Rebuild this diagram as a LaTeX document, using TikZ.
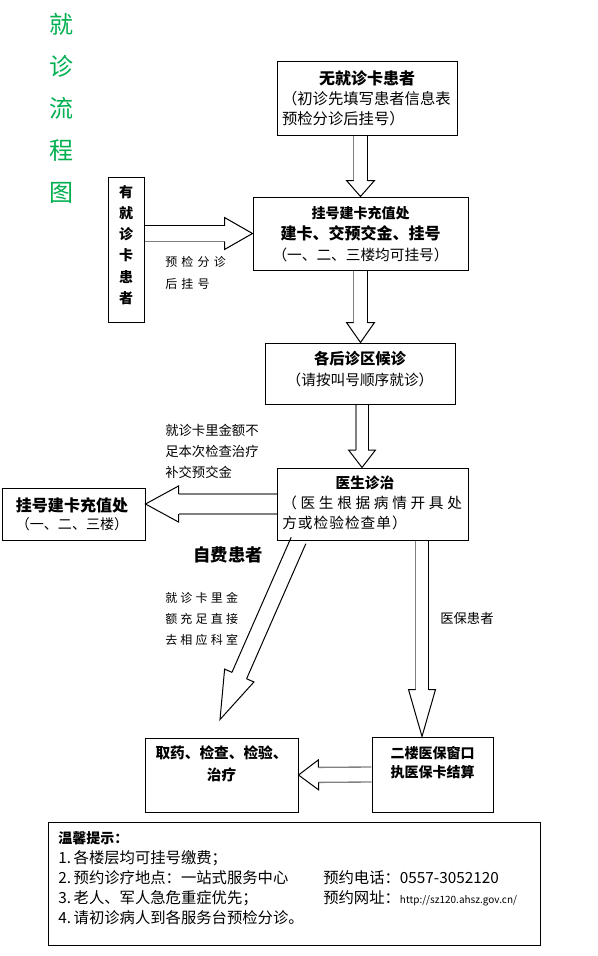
\documentclass[tikz,border=0pt]{standalone}
\usepackage{fontspec}
\setmainfont{Noto Sans CJK SC}
\usetikzlibrary{calc}
\definecolor{titlegreen}{RGB}{0,176,80}
\newcommand\fs[2]{\fontsize{#1}{#2}\selectfont}
\newcommand\ls[1]{\addfontfeatures{LetterSpace=#1}}
\newcommand\numgap{\hspace{2pt}}
% block arrow: #1 start, #2 tip, #3 shaft half width, #4 head half width, #5 head length, #6 style left(+90) edge, #7 style right(-90) edge
\newcommand\blockarrow[7]{%
  \coordinate (baH) at ($(#2)!#5!(#1)$);
  \coordinate (baAp) at ($(#1)!#3!90:(#2)$);
  \coordinate (baAm) at ($(#1)!#3!-90:(#2)$);
  \coordinate (baHp) at ($(baH)!#3!90:(#2)$);
  \coordinate (baHm) at ($(baH)!#3!-90:(#2)$);
  \coordinate (baWp) at ($(baH)!#4!90:(#2)$);
  \coordinate (baWm) at ($(baH)!#4!-90:(#2)$);
  \draw[#6] (baAp) -- (baHp);
  \draw[#7] (baAm) -- (baHm);
  \draw[head] (baHp) -- (baWp) -- (#2) -- (baWm) -- (baHm);
}
\begin{document}
\begin{tikzpicture}[x=0.75pt,y=-0.75pt,
  box/.style={draw,line width=0.75pt,inner sep=0pt},
  txt/.style={inner sep=0pt,align=center},
  head/.style={draw,line width=0.75pt,line join=miter},
  darkedge/.style={draw,line width=0.75pt},
  grayedge/.style={draw,gray,line width=1pt}]
\useasboundingbox (0,0) rectangle (598,956);
\fill[white] (0,0) rectangle (598,956);

% title
\node[txt,text=titlegreen,font=\fs{18}{31.5}] (title) at (61,108.5) {就\\诊\\流\\程\\图};

% boxes
\node[box,minimum width=135pt,minimum height=54.75pt] (b1) at (367,98.5) {};
\node[txt,font=\fs{11.5}{15}] (b1t) at (367,98) {{\bfseries\fs{12}{15}无就诊卡患者}\\\makebox[127.5pt][l]{（初诊先填写患者信息表}\\\makebox[127.5pt][l]{预检分诊后挂号）}};

\node[box,minimum width=161.25pt,minimum height=54.75pt] (b2) at (360.5,233.5) {};
\node[txt,font=\fs{11}{15.75}] (b2t) at (360.5,234) {{\bfseries\fs{10.5}{15.75}挂号建卡充值处}\\{\bfseries\fs{12}{15.75}建卡、交预交金、挂号}\\（一、二、三楼均可挂号）};

\node[box,minimum width=27pt,minimum height=108.75pt] (yb) at (126,249.5) {};
\node[txt,font=\bfseries\fs{10.5}{15.9}] (ybt) at (126,245) {有\\就\\诊\\卡\\患\\者};

\node[box,minimum width=142.5pt,minimum height=45.75pt] (b3) at (360,373.5) {};
\node[txt,font=\fs{11}{15.75}] (b3t) at (360,369.5) {{\bfseries\fs{11.5}{15.75}各后诊区候诊}\\（请按叫号顺序就诊）};

\node[box,minimum width=143.25pt,minimum height=54pt] (b4) at (372.5,504) {};
\node[txt,align=left,anchor=west,font=\fs{11}{15}] (b4t) at (282,503) {\hspace*{40pt}{\bfseries 医生诊治}\\{\ls{25}（医生根据病情开具处}\\{\ls{7}方或检验检查单）}};

\node[box,minimum width=107.25pt,minimum height=39pt] (lb) at (73.5,514) {};
\node[txt,font=\fs{10.5}{13.5}] (lbt) at (72,514) {{\bfseries\fs{12}{13.5}挂号建卡充值处}\\（一、二、三楼）};

\node[box,minimum width=114.75pt,minimum height=55.5pt] (b5) at (221.5,775) {};
\node[txt,font=\bfseries\fs{11}{16.5}] (b5t) at (221.5,764) {取药、检查、检验、\\治疗};

\node[box,minimum width=90.75pt,minimum height=56.25pt] (b6) at (432.5,774.5) {};
\node[txt,font=\bfseries\fs{10.5}{14.25}] (b6t) at (432.5,762.5) {二楼医保窗口\\执医保卡结算};

\node[box,minimum width=369pt,minimum height=92.25pt] (nb) at (294,883.5) {};
\node[txt,align=left,anchor=west,font=\fs{11.5}{15}] (nbt) at (58,878) {{\bfseries\fs{10.5}{15}温馨提示：}\\
1.\numgap 各楼层均可挂号缴费；\\
\makebox[198.75pt][l]{2.\numgap 预约诊疗地点：一站式服务中心}预约电话：0557-3052120\\
\makebox[198.75pt][l]{3.\numgap 老人、军人急危重症优先；}预约网址：{\fs{7.5}{15}http://sz120.ahsz.gov.cn/}\\
4.\numgap 请初诊病人到各服务台预检分诊。};

% labels
\node[txt,align=left,anchor=west,font=\fs{9}{16.5}\ls{35}] (lab1) at (165,273) {预检分诊\\后挂号};
\node[txt,align=left,anchor=west,font=\fs{10}{15.75}] (lab2) at (165,451) {就诊卡里金额不\\足本次检查治疗\\补交预交金};
\node[txt,font=\bfseries\fs{13}{15}] (lab3) at (228,555) {自费患者};
\node[txt,align=left,anchor=west,font=\fs{9}{15.75}\ls{27}] (lab4) at (165,619) {就诊卡里金\\额充足直接\\去相应科室};
\node[txt,anchor=west,font=\fs{10}{12}] (lab5) at (440,618) {医保患者};

% connector end points
\coordinate (a1s) at (b2.north |- b1.south);
\coordinate (a2s) at (b2.south);
\coordinate (a2t) at (b2.south |- b3.north);
\coordinate (a3s) at ($(b3.south)+(2,0)$);
\coordinate (a3t) at (a3s |- b4.north);
\coordinate (a4s) at (yb.east |- b2.west);
\coordinate (a5t) at (lb.east |- b4.west);
\coordinate (dstart) at ($(b4.south west)+(22,0)$);
\coordinate (dtip) at ($(b5.north)+(-1.5,-18)$);
\coordinate (mtip) at ($(b6.north)+(-10.5,0)$);
\coordinate (ms) at (mtip |- b4.south);

% block arrows
\blockarrow{a1s}{b2.north}{5.25pt}{10.5pt}{12pt}{darkedge}{grayedge}
\blockarrow{a2s}{a2t}{5.25pt}{10.5pt}{15pt}{darkedge}{grayedge}
\blockarrow{a3s}{a3t}{4.5pt}{10pt}{13pt}{darkedge}{grayedge}
\blockarrow{a4s}{b2.west}{6pt}{12pt}{21pt}{darkedge}{grayedge}
\blockarrow{b4.west}{a5t}{7.5pt}{13.5pt}{24.75pt}{grayedge}{grayedge}
\blockarrow{dstart}{dtip}{6pt}{12pt}{36pt}{darkedge}{darkedge}
\blockarrow{ms}{mtip}{4.875pt}{10.125pt}{35.25pt}{darkedge}{grayedge}
\blockarrow{b6.west}{b5.east}{5.625pt}{11.25pt}{15pt}{grayedge}{grayedge}
\end{tikzpicture}
\end{document}
